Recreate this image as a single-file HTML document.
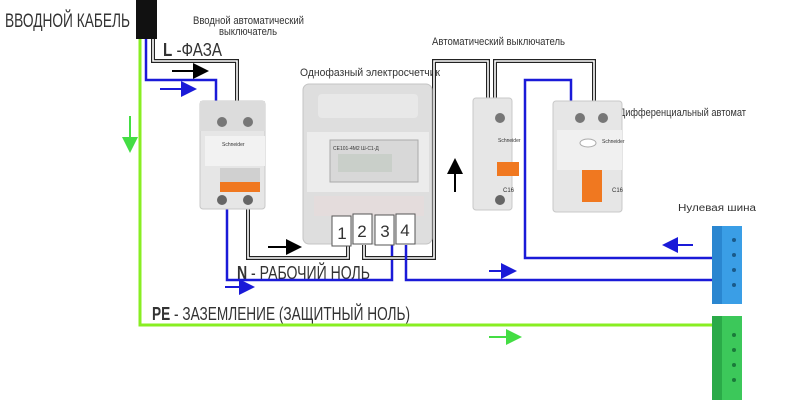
<!DOCTYPE html>
<html><head><meta charset="utf-8"><style>
body{margin:0;background:#fff}
svg{display:block}
text{font-family:"Liberation Sans",sans-serif;fill:#333}
</style></head><body>
<svg width="800" height="400" viewBox="0 0 800 400" xmlns="http://www.w3.org/2000/svg">
<defs>
<marker id="ab" markerWidth="8" markerHeight="8" refX="7" refY="4" orient="auto"><path d="M0,0L8,4L0,8z" fill="#000"/></marker>
<marker id="abl" markerWidth="8" markerHeight="8" refX="7" refY="4" orient="auto"><path d="M0,0L8,4L0,8z" fill="#1a1ad8"/></marker>
<marker id="ag" markerWidth="8" markerHeight="8" refX="7" refY="4" orient="auto"><path d="M0,0L8,4L0,8z" fill="#44dd44"/></marker>
</defs>
<!-- labels -->
<text x="5" y="27" font-size="19" textLength="125" lengthAdjust="spacingAndGlyphs">ВВОДНОЙ КАБЕЛЬ</text>
<text x="193" y="24" font-size="11" textLength="111" lengthAdjust="spacingAndGlyphs">Вводной автоматический</text>
<text x="219" y="35" font-size="11" textLength="58" lengthAdjust="spacingAndGlyphs">выключатель</text>
<text x="163" y="56" font-size="18" textLength="59" lengthAdjust="spacingAndGlyphs"><tspan font-weight="bold">L</tspan> -ФАЗА</text>
<text x="300" y="76" font-size="11" textLength="140" lengthAdjust="spacingAndGlyphs">Однофазный электросчетчик</text>
<text x="432" y="45" font-size="11" textLength="133" lengthAdjust="spacingAndGlyphs">Автоматический выключатель</text>
<text x="619" y="116" font-size="11" textLength="127" lengthAdjust="spacingAndGlyphs">Дифференциальный автомат</text>
<text x="678" y="211" font-size="10" textLength="78" lengthAdjust="spacingAndGlyphs">Нулевая шина</text>
<text x="237" y="279" font-size="18" textLength="133" lengthAdjust="spacingAndGlyphs"><tspan font-weight="bold">N</tspan> - РАБОЧИЙ НОЛЬ</text>
<text x="152" y="320" font-size="18" textLength="258" lengthAdjust="spacingAndGlyphs"><tspan font-weight="bold">PE</tspan> - ЗАЗЕМЛЕНИЕ (ЗАЩИТНЫЙ НОЛЬ)</text>

<!-- green PE wire -->
<polyline points="140,38 140,325 728,325" fill="none" stroke="#88ee22" stroke-width="3"/>
<!-- blue from cable -->
<polyline points="146,38 146,80 216,80 216,103" fill="none" stroke="#1a1ad8" stroke-width="2.5"/>
<!-- phase double wire -->
<polyline points="153,38 153,61 237,61 237,101" fill="none" stroke="#222" stroke-width="4"/>
<polyline points="153,38 153,61 237,61 237,101" fill="none" stroke="#fff" stroke-width="1.6"/>
<!-- cable -->
<rect x="136" y="0" width="21" height="39" fill="#111"/>

<!-- breaker1 bottom wires -->
<polyline points="227,206 227,280 392,280 392,245" fill="none" stroke="#1a1ad8" stroke-width="2.5"/>
<g fill="none">
<polyline points="248,206 248,258 348,258 348,245" stroke="#222" stroke-width="4"/>
<polyline points="248,206 248,258 348,258 348,245" stroke="#fff" stroke-width="1.6"/>
<polyline points="364,245 364,258 434,258 434,61 488,61 488,100" stroke="#222" stroke-width="4"/>
<polyline points="364,245 364,258 434,258 434,61 488,61 488,100" stroke="#fff" stroke-width="1.6"/>
<polyline points="495,100 495,61 594,61 594,102" stroke="#222" stroke-width="4"/>
<polyline points="495,100 495,61 594,61 594,102" stroke="#fff" stroke-width="1.6"/>
</g>
<polyline points="406,245 406,280 728,280" fill="none" stroke="#1a1ad8" stroke-width="2.5"/>
<polyline points="571,103 571,80 525,80 525,258 728,258" fill="none" stroke="#1a1ad8" stroke-width="2.5"/>

<!-- arrows -->
<line x1="172" y1="71" x2="207" y2="71" stroke="#000" stroke-width="2" marker-end="url(#ab)"/>
<line x1="160" y1="89" x2="195" y2="89" stroke="#1a1ad8" stroke-width="2" marker-end="url(#abl)"/>
<line x1="130" y1="116" x2="130" y2="151" stroke="#44dd44" stroke-width="2" marker-end="url(#ag)"/>
<line x1="268" y1="247" x2="300" y2="247" stroke="#000" stroke-width="2" marker-end="url(#ab)"/>
<line x1="225" y1="287" x2="253" y2="287" stroke="#1a1ad8" stroke-width="2" marker-end="url(#abl)"/>
<line x1="455" y1="192" x2="455" y2="160" stroke="#000" stroke-width="2" marker-end="url(#ab)"/>
<line x1="489" y1="271" x2="515" y2="271" stroke="#1a1ad8" stroke-width="2" marker-end="url(#abl)"/>
<line x1="693" y1="245" x2="664" y2="245" stroke="#1a1ad8" stroke-width="2" marker-end="url(#abl)"/>
<line x1="489" y1="337" x2="520" y2="337" stroke="#44dd44" stroke-width="2" marker-end="url(#ag)"/>

<!-- breaker 1 -->
<rect x="200" y="101" width="65" height="108" rx="3" fill="#e6e6e6" stroke="#c8c8c8"/>
<rect x="200" y="101" width="65" height="30" fill="#dcdcdc"/>
<circle cx="222" cy="122" r="5" fill="#777"/><circle cx="248" cy="122" r="5" fill="#777"/>
<rect x="205" y="136" width="60" height="30" fill="#f2f2f2"/>
<text x="222" y="146" font-size="5" fill="#2a9a3a">Schneider</text>
<rect x="220" y="168" width="40" height="14" fill="#d0d0d0"/>
<rect x="220" y="182" width="40" height="10" fill="#f07820"/>
<circle cx="222" cy="200" r="5" fill="#666"/><circle cx="248" cy="200" r="5" fill="#666"/>

<!-- meter -->
<rect x="303" y="84" width="129" height="160" rx="6" fill="#dedede" stroke="#c4c4c4"/>
<rect x="318" y="94" width="100" height="24" rx="4" fill="#e8e8e8"/>
<rect x="307" y="132" width="122" height="60" fill="#ececec"/>
<rect x="330" y="140" width="88" height="42" fill="#d8d8d8" stroke="#aaa"/>
<rect x="338" y="154" width="54" height="18" fill="#c9cfc9"/>
<text x="333" y="150" font-size="5" fill="#333">СЕ101-4М2 Ш-С1-Д</text>
<rect x="314" y="196" width="110" height="20" fill="#e4dcdc"/>
<g font-size="17" fill="#111" text-anchor="middle">
<rect x="332" y="216" width="19" height="30" fill="#fff" stroke="#555"/><text x="342" y="239">1</text>
<rect x="353" y="214" width="19" height="30" fill="#fff" stroke="#555"/><text x="362" y="237">2</text>
<rect x="375" y="215" width="19" height="30" fill="#fff" stroke="#555"/><text x="385" y="237">3</text>
<rect x="396" y="214" width="19" height="30" fill="#fff" stroke="#555"/><text x="405" y="236">4</text>
</g>

<!-- breaker 2 -->
<rect x="473" y="98" width="39" height="112" rx="3" fill="#e6e6e6" stroke="#c8c8c8"/>
<circle cx="500" cy="118" r="5" fill="#777"/>
<rect x="497" y="162" width="22" height="14" fill="#f07820"/>
<text x="498" y="142" font-size="5" fill="#2a9a3a">Schneider</text>
<circle cx="500" cy="200" r="5" fill="#666"/>
<text x="503" y="192" font-size="6" fill="#333">C16</text>

<!-- diff automat -->
<rect x="553" y="101" width="69" height="111" rx="3" fill="#e6e6e6" stroke="#c8c8c8"/>
<circle cx="580" cy="118" r="5" fill="#777"/><circle cx="603" cy="118" r="5" fill="#777"/>
<rect x="557" y="130" width="65" height="40" fill="#f0f0f0"/>
<ellipse cx="588" cy="143" rx="8" ry="4" fill="#fff" stroke="#aaa"/>
<text x="602" y="143" font-size="5" fill="#2a9a3a">Schneider</text>
<rect x="582" y="170" width="20" height="32" fill="#f07820"/>
<text x="612" y="192" font-size="6" fill="#333">C16</text>

<!-- buses -->
<rect x="712" y="226" width="30" height="78" fill="#3a9ee6"/>
<rect x="712" y="226" width="10" height="78" fill="#2a86d0"/>
<rect x="712" y="316" width="30" height="84" fill="#3cc85a"/>
<rect x="712" y="316" width="10" height="84" fill="#2aaa48"/>
<g fill="#1a5a8a"><circle cx="734" cy="240" r="2"/><circle cx="734" cy="255" r="2"/><circle cx="734" cy="270" r="2"/><circle cx="734" cy="285" r="2"/></g>
<g fill="#1a7a3a"><circle cx="734" cy="335" r="2"/><circle cx="734" cy="350" r="2"/><circle cx="734" cy="365" r="2"/><circle cx="734" cy="380" r="2"/></g>
</svg>
</body></html>
